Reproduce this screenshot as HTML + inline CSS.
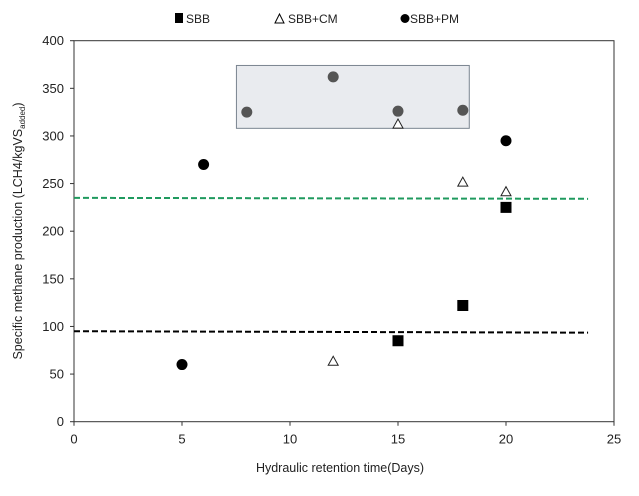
<!DOCTYPE html>
<html><head><meta charset="utf-8"><style>
body{margin:0;background:#fff;}
svg text{font-family:"Liberation Sans",sans-serif;fill:#222;}
</style></head><body>
<svg id="chart" width="639" height="491">
<g id="legend">
 <g><rect x="175" y="13" width="8" height="10" fill="#000"/><text x="186" y="23" font-size="12">SBB</text></g>
 <g><path d="M275,23 L279.5,14 L284,23 Z" fill="none" stroke="#000"/><text x="288" y="23" font-size="12">SBB+CM</text></g>
 <g><circle cx="405" cy="18.5" r="4.5" fill="#000"/><text x="410" y="23" font-size="12">SBB+PM</text></g>
</g>
</svg>
<script>
const xTicks=[0,5,10,15,20,25];
const yTicks=[0,50,100,150,200,250,300,350,400];
const sbbX=[15,18,20];
const sbbY=[85,122,225];
const cmX=[12,15,18,20];
const cmY=[64,313,252,242];
const pmX=[5,6,8,12,15,18,20];
const pmY=[60,270,325,362,326,327,295];
const pmHighlighted=[false,false,true,true,true,true,false];
const boxX=[7.52,18.3];
const boxY=[308,374];
const sbbAvgX=[0,23.8];
const sbbAvgY=[95,93.5];
const pmAvgX=[0,23.8];
const pmAvgY=[235,234];

const L=74,R=614,T=40.7,B=421.7;
const sx=v=>L+(R-L)*v/25;
const sy=v=>B-(B-T)*v/400;
const svg=document.getElementById('chart');
const NS='http://www.w3.org/2000/svg';
function mk(tag,attrs,parent){const e=document.createElementNS(NS,tag);for(const k in attrs)e.setAttribute(k,attrs[k]);(parent||svg).appendChild(e);return e;}

const box=mk('rect',{x:sx(boxX[0]),y:sy(boxY[1]),width:sx(boxX[1])-sx(boxX[0]),height:sy(boxY[0])-sy(boxY[1]),fill:'#e9ebef',stroke:'#7a8490','stroke-width':1});



const frame=mk('rect',{x:L,y:T,width:R-L,height:B-T,fill:'none',stroke:'#333','stroke-width':1});



xTicks.forEach(t=>{
 mk('line',{x1:sx(t),x2:sx(t),y1:B,y2:B+4,stroke:'#333'});
 const tx=mk('text',{x:sx(t),y:B+22,'font-size':13,'text-anchor':'middle'});tx.textContent=t;
 
 
});
yTicks.forEach(t=>{
 mk('line',{x1:L-4,x2:L,y1:sy(t),y2:sy(t),stroke:'#333'});
 const tx=mk('text',{x:L-10,y:sy(t)+4.5,'font-size':13,'text-anchor':'end'});tx.textContent=t;
 
 
});

const xt=mk('text',{x:(L+R)/2-4,y:472,'font-size':12.5,'text-anchor':'middle'});
xt.textContent='Hydraulic retention time(Days)';


const yt=mk('text',{transform:'translate(22,231) rotate(-90)','font-size':12.5,'text-anchor':'middle'});
yt.innerHTML='Specific methane production (LCH4/kgVS<tspan font-size="8" dy="3">added</tspan><tspan dy="-3">)</tspan>';



const l1=mk('line',{x1:sx(sbbAvgX[0]),x2:sx(sbbAvgX[1]),y1:sy(sbbAvgY[0]),y2:sy(sbbAvgY[1]),stroke:'#000','stroke-width':2,'stroke-dasharray':'6,3'});


const l2=mk('line',{x1:sx(pmAvgX[0]),x2:sx(pmAvgX[1]),y1:sy(pmAvgY[0]),y2:sy(pmAvgY[1]),stroke:'#1f9a5e','stroke-width':2,'stroke-dasharray':'6,3'});



sbbX.forEach((x,i)=>{
 const r=mk('rect',{x:sx(x)-5.5,y:sy(sbbY[i])-5.5,width:11,height:11,fill:'#000'});
 
 
});
cmX.forEach((x,i)=>{
 const X=sx(x),Y=sy(cmY[i]);
 const p=mk('path',{d:`M${X-5},${Y+4.5} L${X},${Y-4.5} L${X+5},${Y+4.5} Z`,fill:'#fff',stroke:'#222','stroke-width':1});
 
 
});
pmX.forEach((x,i)=>{
 const c=mk('circle',{cx:sx(x),cy:sy(pmY[i]),r:5.5,fill:pmHighlighted[i]?'#555':'#000'});
 
 
});
svg.appendChild(document.getElementById('legend'));
</script>
</body></html>
